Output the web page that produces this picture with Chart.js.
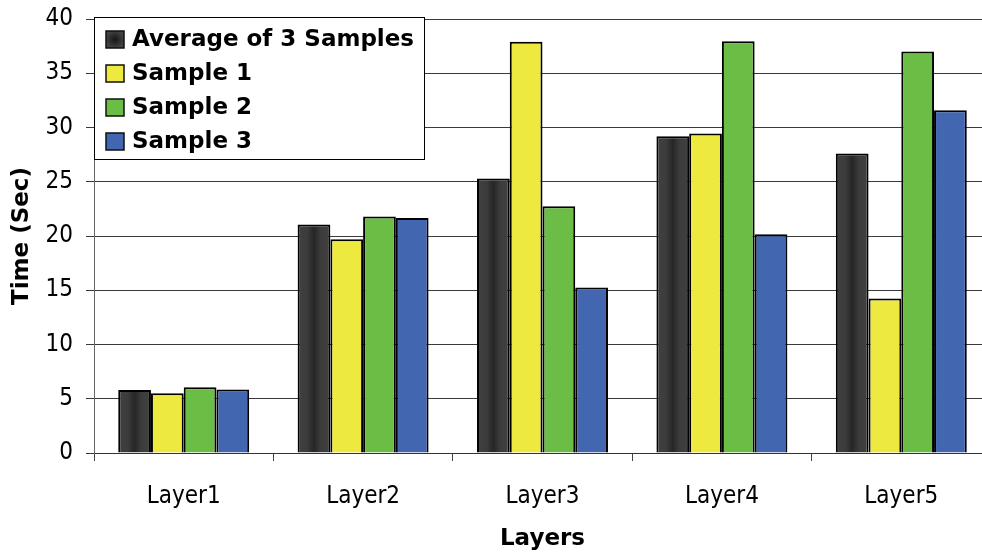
<!DOCTYPE html>
<html>
<head>
<meta charset="utf-8">
<script src="https://cdn.jsdelivr.net/npm/chart.js@4/dist/chart.umd.min.js"></script>
<style>
  html, body { margin: 0; padding: 0; background: #fff; overflow: hidden; }
  #wrap { position: relative; width: 992px; height: 554px; }
</style>
</head>
<body>
<div id="wrap"><canvas id="chart"></canvas></div>
<script>
// layer names along the x axis
const layers = ['Layer1', 'Layer2', 'Layer3', 'Layer4', 'Layer5'];

// times in seconds
const averageTimes = [5.8, 21.05, 25.3, 29.2, 27.6];
const sample1Times = [5.5, 19.7, 37.9, 29.45, 14.25];
const sample2Times = [6.05, 21.8, 22.75, 37.95, 37.0];
const sample3Times = [5.85, 21.65, 15.25, 20.15, 31.6];

const seriesNames = ['Average of 3 Samples', 'Sample 1', 'Sample 2', 'Sample 3'];
const seriesColors = ['#3d3d3d', '#ede93f', '#6cbd45', '#4266af'];

const yTicks = { min: 0, max: 40, step: 5 };

const tickFont = { family: "'DejaVu Sans Condensed', 'DejaVu Sans', sans-serif", size: 24 };
const boldFont = { family: "'DejaVu Sans', sans-serif", size: 23, weight: 'bold' };

const catPct = 0.73;

// dark bars get a darker streak down the middle
const darkFill = function makeDarkFill(ctx) {
  const chart = ctx.chart;
  const xs = chart.scales && chart.scales.x;
  if (!chart.chartArea || !xs) return seriesColors[0];
  const catW = xs.width / layers.length;
  const barW = catW * catPct / 4;
  const left = xs.getPixelForValue(ctx.dataIndex) - 2 * barW;
  const g = chart.ctx.createLinearGradient(left, 0, left + barW, 0);
  g.addColorStop(0, '#414141');
  g.addColorStop(0.3, '#3b3b3b');
  g.addColorStop(0.5, '#262626');
  g.addColorStop(0.7, '#3b3b3b');
  g.addColorStop(1, '#414141');
  return g;
};

// legend box drawn on top of the plot
const boxLegend = {
  id: 'boxLegend',
  afterDraw(chart) {
    const c = chart.ctx;
    c.save();
    c.fillStyle = '#fff';
    c.fillRect(94, 17, 330, 142);
    c.strokeStyle = '#000';
    c.lineWidth = 1;
    c.strokeRect(94.5, 17.5, 330, 142);
    const rows = [39.5, 73.5, 107.5, 141.5];
    c.font = 'bold 23px "DejaVu Sans", sans-serif';
    c.textBaseline = 'middle';
    seriesNames.forEach((name, i) => {
      const y = rows[i];
      if (i === 0) {
        const g = c.createRadialGradient(115, y, 1, 115, y, 9);
        g.addColorStop(0, '#1a1a1a');
        g.addColorStop(1, '#444');
        c.fillStyle = g;
      } else {
        c.fillStyle = seriesColors[i];
      }
      c.fillRect(106, y - 8.5, 18, 17);
      c.strokeStyle = '#111';
      c.lineWidth = 1.5;
      c.strokeRect(106, y - 8.5, 18, 17);
      c.fillStyle = '#000';
      c.fillText(name, 132, y + 1);
    });
    c.restore();
  }
};

const allSeries = [averageTimes, sample1Times, sample2Times, sample3Times];

new Chart(document.getElementById('chart'), {
  type: 'bar',
  data: {
    labels: layers,
    datasets: allSeries.map((vals, i) => ({
      label: seriesNames[i],
      data: vals,
      backgroundColor: i === 0 ? darkFill : seriesColors[i],
      borderColor: '#000',
      borderWidth: 2,
      categoryPercentage: catPct,
      barPercentage: 1,
    })),
  },
  options: {
    responsive: true,
    maintainAspectRatio: false,
    animation: false,
    layout: { padding: { top: 19, right: 1, left: 0, bottom: 0 } },
    plugins: {
      legend: { display: false },
      tooltip: { enabled: false },
    },
    scales: {
      x: {
        offset: true,
        grid: { offset: true, drawOnChartArea: false, drawTicks: true, tickLength: 8, color: '#444' },
        border: { color: '#333', width: 1 },
        ticks: { color: '#000', font: tickFont, padding: 21 },
        title: { display: true, text: 'Layers', color: '#000', font: boldFont, padding: { top: 0, bottom: 1 } },
        afterFit(scale) { scale.height = 101; },
      },
      y: {
        min: yTicks.min,
        max: yTicks.max,
        ticks: { stepSize: yTicks.step, color: '#000', font: tickFont, padding: 13 },
        grid: { color: '#3a3a3a', lineWidth: 1, tickLength: 8 },
        border: { color: '#666', width: 1 },
        title: { display: true, text: 'Time (Sec)', color: '#000', font: boldFont, padding: { top: 8, bottom: 0 } },
        afterFit(scale) {
          scale.width = 94;
          scale.paddingTop = 0;
          scale.paddingBottom = 0;
        },
      },
    },
  },
  plugins: [boxLegend],
});
</script>
</body>
</html>
